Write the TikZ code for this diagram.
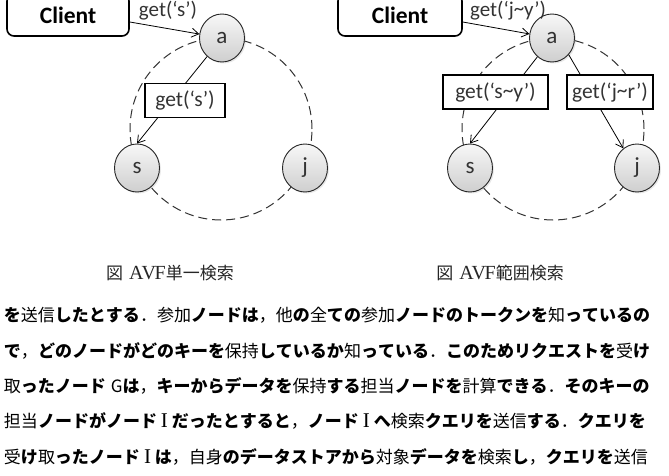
\documentclass[tikz,border=0pt]{standalone}
\usepackage{fontspec}
\setmainfont{Carlito}
\newfontfamily\jp{Noto Sans CJK JP}
\newfontfamily\ser{Liberation Serif}
\usetikzlibrary{arrows.meta,shapes.geometric,shadows}
\newcommand\kn[1]{{\bfseries #1}}
\newcommand\tld{\raisebox{1pt}{\char"007E\relax}}
\newcommand\bigI{\hspace{4pt}{\ser\fontsize{21}{20}\selectfont I}\hspace{4pt}}
\XeTeXlinebreaklocale "ja"
\XeTeXlinebreakskip=0pt plus 4pt
\tikzset{
  peer/.style={ellipse, draw=black!85, line width=0.9pt, minimum width=45pt, minimum height=48pt,
    inner sep=0pt, top color=gray!6, bottom color=gray!38,
    drop shadow={opacity=0.18, shadow xshift=1.5pt, shadow yshift=-1.5pt},
    font=\fontsize{23}{23}\selectfont, text=black!80},
  clientbox/.style={draw=black, rounded corners=7pt, line width=1.6pt, minimum width=122pt,
    minimum height=42pt, inner sep=0pt, fill=white, font=\bfseries\fontsize{23.5}{23.5}\selectfont},
  msg/.style={draw=black, fill=white, line width=1.4pt, minimum height=34pt, inner sep=0pt,
    font=\fontsize{21.5}{21.5}\selectfont, text=black!80},
  lbl/.style={font=\fontsize{21}{21}\selectfont, text=black!80, inner sep=0pt},
  ring/.style={dash pattern=on 9pt off 5pt, line width=1pt, draw=black!80},
  arr/.style={-{Straight Barb[length=7pt,width=9pt]}, line width=0.8pt},
  captxt/.style={font=\jp\fontsize{17}{17}\selectfont, text=black!85, inner sep=0pt},
  body/.style={text width=653pt, align=justify, inner sep=0pt, anchor=center,
    font=\jp\fontsize{17}{20}\selectfont, text=black}
}
\begin{document}
\begin{tikzpicture}[x=1pt,y=-1pt]
\useasboundingbox (0,0) rectangle (669,476);

% ---------- left diagram ----------
\draw[ring] (221,129) circle[radius=91pt];
\node[clientbox] (cl1) at (68,15) {Client};
\node[peer] (a1) at (222,38) {a};
\node[peer] (s1) at (137,168) {s};
\node[peer] (j1) at (305,168) {j};
\node[lbl] (g1) at (168,11) {get(‘s’)};
\draw[arr] ([yshift=-7pt]cl1.east) -- (a1);
\draw[arr] (a1) -- (s1.north);
\node[msg, minimum width=80pt] (m1) at (185,100.5) {get(‘s’)};

% ---------- right diagram ----------
\draw[ring] (553,129) circle[radius=91pt];
\node[clientbox, minimum width=124pt] (cl2) at (400,15) {Client};
\node[peer] (a2) at (552,38) {a};
\node[peer] (s2) at (470,168) {s};
\node[peer] (j2) at (637,168) {j};
\node[lbl] (g2) at (508,11) {get(‘j\tld y’)};
\draw[arr] ([yshift=-7pt]cl2.east) -- (a2);
\draw[arr] (a2) -- (s2.north);
\draw[arr] (a2.315) -- (j2.125);
\node[msg, minimum width=105pt] (m2) at (495.5,92) {get(‘s\tld y’)};
\node[msg, minimum width=86pt] (m3) at (610,92) {get(‘j\tld r’)};

% ---------- captions ----------
\node[captxt] (c1) at (170,273) {図\hspace{6pt}{\ser\fontsize{20}{20}\selectfont A\kern-2pt V\kern-1.5pt F}単一検索};
\node[captxt] (c2) at (500,273) {図\hspace{6pt}{\ser\fontsize{20}{20}\selectfont A\kern-2pt V\kern-1.5pt F}範囲検索};

% ---------- body text ----------
\node[body] (t1) at (330.5,315.5) {\tolerance=10000\parfillskip=0pt
\kn{を}送信\kn{したとする}．参加\kn{ノードは}，他\kn{の}全\kn{ての}参加\kn{ノードのトークンを}知\kn{っているの}};
\node[body] (t2) at (330.5,350.8) {\tolerance=10000\parfillskip=0pt
\kn{で}，\kn{どのノードがどのキーを}保持\kn{しているか}知\kn{っている}．\kn{このためリクエストを}受\kn{け}};
\node[body] (t3) at (330.5,386.1) {\tolerance=10000\parfillskip=0pt
取\kn{ったノード}\hspace{5pt}G\kn{は}，\kn{キーからデータを}保持\kn{する}担当\kn{ノードを}計算\kn{できる}．\kn{そのキーの}};
\node[body] (t4) at (330.5,421.4) {\tolerance=10000\parfillskip=0pt
担当\kn{ノードがノード}\bigI\kn{だったとすると}，\kn{ノード}\bigI\kn{へ}検索\kn{クエリを}送信\kn{する}．\kn{クエリを}};
\node[body] (t5) at (330.5,456.7) {\tolerance=10000\parfillskip=0pt
受\kn{け}取\kn{ったノード}\bigI\kn{は}，自身\kn{のデータストアから}対象\kn{データを}検索\kn{し}，\kn{クエリを}送信};
\end{tikzpicture}
\end{document}
